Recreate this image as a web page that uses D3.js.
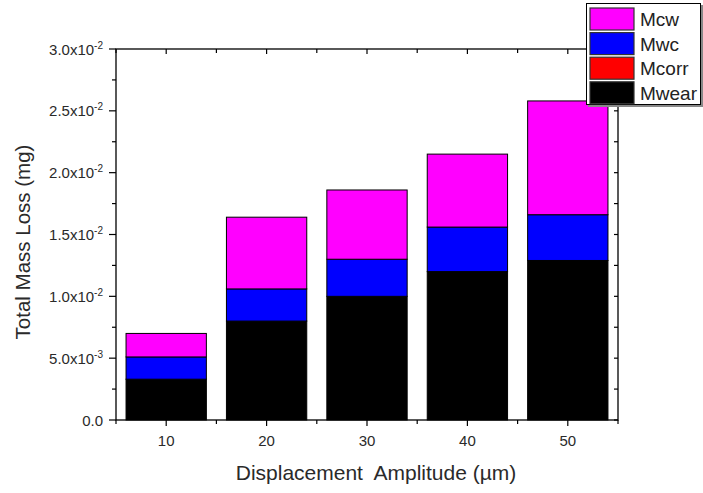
<!DOCTYPE html>
<html>
<head>
<meta charset="utf-8">
<script src="https://cdn.jsdelivr.net/npm/d3@7"></script>
<style>
  body { margin: 0; background: #fff; }
  text { font-family: "Liberation Sans", Arial, sans-serif; }
</style>
</head>
<body>
<div id="chart"></div>
<script>
// displacement amplitudes (um)
const amplitudes = [10, 20, 30, 40, 50];
// stacked components (mg), bottom to top
const mwear = [0.0033, 0.0080, 0.0100, 0.0120, 0.0129];
const mcorr = [0, 0, 0, 0, 0];
const mwc   = [0.0018, 0.0026, 0.0030, 0.0036, 0.0037];
const mcw   = [0.0019, 0.0058, 0.0056, 0.0059, 0.0092];

const seriesNames = ["Mwear", "Mcorr", "Mwc", "Mcw"];
const seriesColors = {Mwear: "#000000", Mcorr: "#ff0000", Mwc: "#0000ff", Mcw: "#ff00ff"};
const legendOrder = ["Mcw", "Mwc", "Mcorr", "Mwear"];

const yMajor = [0, 0.005, 0.01, 0.015, 0.02, 0.025, 0.03];
const xMajor = [10, 20, 30, 40, 50];

const W = 703, H = 493;
const pLeft = 116, pRight = 618, pTop = 49, pBottom = 420;

const rows = amplitudes.map((a, i) => ({
  amp: a, Mwear: mwear[i], Mcorr: mcorr[i], Mwc: mwc[i], Mcw: mcw[i]
}));
const stacked = d3.stack().keys(seriesNames)(rows);

const x = d3.scaleLinear().domain([5, 55]).range([pLeft, pRight]);
const y = d3.scaleLinear().domain([0, 0.03]).range([pBottom, pTop]);

const svg = d3.select("#chart").append("svg")
  .attr("width", W)
  .attr("height", H);

// bars
const barHalf = 4;
svg.append("g").selectAll("g")
  .data(stacked)
  .enter().append("g")
  .attr("fill", d => seriesColors[d.key])
  .selectAll("rect")
  .data(d => d)
  .enter().append("rect")
  .attr("x", d => x(d.data.amp - barHalf))
  .attr("width", d => x(d.data.amp + barHalf) - x(d.data.amp - barHalf))
  .attr("y", d => y(d[1]))
  .attr("height", d => y(d[0]) - y(d[1]))
  .attr("stroke", "#000")
  .attr("stroke-width", 1);

// frame
const axisColor = "#000";
svg.append("rect")
  .attr("x", pLeft).attr("y", pTop)
  .attr("width", pRight - pLeft).attr("height", pBottom - pTop)
  .attr("fill", "none").attr("stroke", axisColor).attr("stroke-width", 1.3);

const yMinor = d3.range(0.0025, 0.03, 0.005);
const xMinor = [5, 15, 25, 35, 45, 55];

// left axis ticks (outward)
svg.append("g").selectAll("line").data(yMajor).enter().append("line")
  .attr("x1", pLeft - 7).attr("x2", pLeft)
  .attr("y1", d => y(d)).attr("y2", d => y(d))
  .attr("stroke", axisColor).attr("stroke-width", 1.2);
svg.append("g").selectAll("line").data(yMinor).enter().append("line")
  .attr("x1", pLeft - 4).attr("x2", pLeft)
  .attr("y1", d => y(d)).attr("y2", d => y(d))
  .attr("stroke", axisColor).attr("stroke-width", 1.2);
// right axis ticks (inward)
svg.append("g").selectAll("line").data(yMajor.concat(yMinor)).enter().append("line")
  .attr("x1", pRight - 4).attr("x2", pRight)
  .attr("y1", d => y(d)).attr("y2", d => y(d))
  .attr("stroke", axisColor).attr("stroke-width", 1.2);
// bottom axis ticks (outward)
svg.append("g").selectAll("line").data(xMajor).enter().append("line")
  .attr("x1", d => x(d)).attr("x2", d => x(d))
  .attr("y1", pBottom).attr("y2", pBottom + 6)
  .attr("stroke", axisColor).attr("stroke-width", 1.2);
svg.append("g").selectAll("line").data(xMinor).enter().append("line")
  .attr("x1", d => x(d)).attr("x2", d => x(d))
  .attr("y1", pBottom).attr("y2", pBottom + 4)
  .attr("stroke", axisColor).attr("stroke-width", 1.2);
// top axis ticks (inward)
svg.append("g").selectAll("line").data(xMajor.concat(xMinor)).enter().append("line")
  .attr("x1", d => x(d)).attr("x2", d => x(d))
  .attr("y1", pTop).attr("y2", d => pTop + (xMajor.includes(d) ? 5 : 4))
  .attr("stroke", axisColor).attr("stroke-width", 1.2);

// y tick labels with x10^n
const yLab = svg.append("g").selectAll("text").data(yMajor).enter().append("text")
  .attr("x", pLeft - 13)
  .attr("y", d => y(d) + 5.5)
  .attr("text-anchor", "end")
  .attr("font-size", 15)
  .attr("fill", "#2a2a2a");
yLab.each(function(d) {
  const t = d3.select(this);
  if (d === 0) { t.text("0.0"); return; }
  const e = Math.floor(Math.log10(d) + 1e-9);
  const m = d / Math.pow(10, e);
  t.append("tspan").text(m.toFixed(1) + "x10");
  t.append("tspan").attr("dy", -6).attr("font-size", 10).text(String(e));
});

// x tick labels
svg.append("g").selectAll("text").data(xMajor).enter().append("text")
  .attr("x", d => x(d))
  .attr("y", 446)
  .attr("text-anchor", "middle")
  .attr("font-size", 15)
  .attr("fill", "#2a2a2a")
  .text(d => d);

// axis titles
svg.append("text")
  .attr("x", 376).attr("y", 480)
  .attr("text-anchor", "middle")
  .attr("font-size", 21)
  .attr("fill", "#2a2a2a")
  .attr("xml:space", "preserve")
  .text("Displacement  Amplitude (\u00b5m)");

svg.append("text")
  .attr("transform", "translate(30,242) rotate(-90)")
  .attr("text-anchor", "middle")
  .attr("font-size", 20.5)
  .attr("fill", "#2a2a2a")
  .text("Total Mass Loss (mg)");

// legend
const lg = svg.append("g");
lg.append("rect")
  .attr("x", 588).attr("y", 5).attr("width", 115).attr("height", 102)
  .attr("fill", "#888");
lg.append("rect")
  .attr("x", 586.5).attr("y", 3.5).attr("width", 114).attr("height", 101)
  .attr("fill", "#fff").attr("stroke", "#000").attr("stroke-width", 1);
const items = lg.selectAll("g.item").data(legendOrder).enter().append("g")
  .attr("transform", (d, i) => `translate(590,${8 + i * 24.6})`);
items.append("rect")
  .attr("width", 44).attr("height", 22)
  .attr("fill", d => seriesColors[d])
  .attr("stroke", "#333").attr("stroke-width", 1.2);
items.append("text")
  .attr("x", 50).attr("y", 18)
  .attr("font-size", 19)
  .attr("fill", "#222")
  .text(d => d);
</script>
</body>
</html>
